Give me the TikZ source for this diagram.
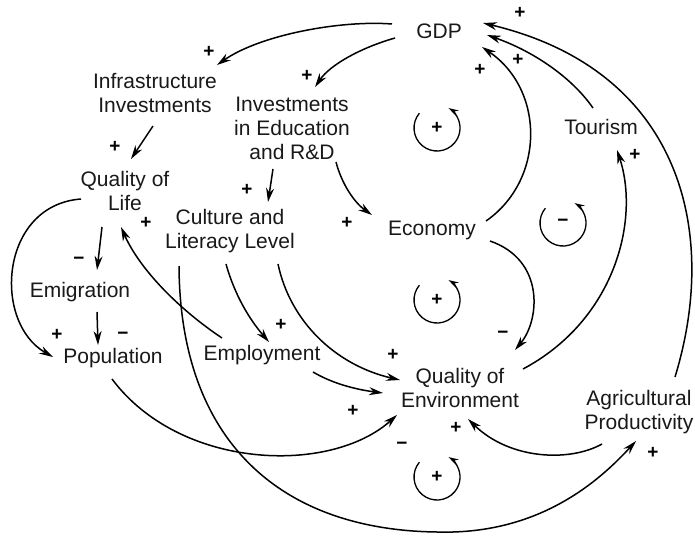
\documentclass[tikz,border=0pt]{standalone}
\usepackage{fontspec}
\setmainfont{Liberation Sans}
\usetikzlibrary{arrows.meta}
\begin{document}
\begin{tikzpicture}[x=1pt,y=-1pt,
  var/.style={align=center,font=\fontsize{21}{24}\selectfont,inner sep=0pt,text=black!90},
  pol/.style={font=\bfseries\fontsize{19}{19}\selectfont,inner sep=0pt},
  lnk/.style={line width=1.5pt,-{Stealth[length=14pt,width=8pt]}},
  cyc/.style={line width=1.3pt,-{Stealth[length=10pt,width=6pt]}}]
\fill[white] (0,0) rectangle (695,535);
\useasboundingbox (0,0) rectangle (695,535);

% variables
\node[var] (gdp)   at (439,31)  {GDP};
\node[var] (infra) at (155,93)  {Infrastructure\\Investments};
\node[var] (inved) at (292,128) {Investments\\in Education\\and R\&D};
\node[var] (tour)  at (601,127) {Tourism};
\node[var] (qol)   at (125,191) {Quality of\\Life};
\node[var] (cult)  at (230,231) {Culture and\\Literacy Level};
\node[var] (econ)  at (432,230) {Economy};
\node[var] (emig)  at (80,292)  {Emigration};
\node[var] (pop)   at (113,358) {Population};
\node[var] (empl)  at (262,355) {Employment};
\node[var] (qoe)   at (460,388) {Quality of\\Environment};
\node[var] (agri)  at (639,412) {Agricultural\\Productivity};

% links
\draw[lnk] ([shift={(-47,-7)}]gdp.center) .. controls +(-52,-4) and +(43,-30) .. ([shift={(62,-28)}]infra.center);
\draw[lnk] ([shift={(-44,7)}]gdp.center) .. controls +(-35,10) and +(15,-22) .. ([shift={(23,-41)}]inved.center);
\draw[lnk] ([shift={(-2,33)}]infra.center) -- ([shift={(6,-32)}]qol.center);
\draw[lnk] ([shift={(-19,41)}]inved.center) -- ([shift={(38,-29)}]cult.center);
\draw[lnk] ([shift={(44,34)}]inved.center) .. controls +(6,23) and +(-17,-12) .. ([shift={(-60,-15)}]econ.center);
\draw[lnk] ([shift={(54,-9)}]econ.center) .. controls +(59,-41) and +(63,43) .. ([shift={(43,16)}]gdp.center);
\draw[lnk] ([shift={(-8,-19)}]tour.center) .. controls +(-23,-33) and +(43,15) .. ([shift={(48,4)}]gdp.center);
\draw[lnk] ([shift={(36,-35)}]agri.center) .. controls +(45,-147) and +(197,47) .. ([shift={(44,-8)}]gdp.center);
\draw[lnk] ([shift={(63,-19)}]qoe.center) .. controls +(92,-49) and +(23,70) .. ([shift={(16,23)}]tour.center);
\draw[lnk] ([shift={(58,11)}]econ.center) .. controls +(55,19) and +(25,-30) .. ([shift={(55,-38)}]qoe.center);
\draw[lnk] ([shift={(-37,32)}]agri.center) .. controls +(-32,18) and +(42,41) .. ([shift={(8,31)}]qoe.center);
\draw[lnk] ([shift={(-51,35)}]cult.center) .. controls +(1,175) and +(-157,-2) .. (437,532)
           .. controls +(103,3) and +(-36,39) .. ([shift={(-3,29)}]agri.center);
\draw[lnk] ([shift={(-4,33)}]cult.center) .. controls +(9,32) and +(-19,-22) .. ([shift={(7,-13)}]empl.center);
\draw[lnk] ([shift={(48,33)}]cult.center) .. controls +(12,57) and +(-65,-15) .. ([shift={(-60,-8)}]qoe.center);
\draw[lnk] ([shift={(51,17)}]empl.center) .. controls +(22,13) and +(-23,-3) .. ([shift={(-77,5)}]qoe.center);
\draw[lnk] ([shift={(-40,-17)}]empl.center) .. controls +(-42,-28) and +(19,43) .. ([shift={(-4,36)}]qol.center);
\draw[lnk] ([shift={(-23,36)}]qol.center) -- ([shift={(17,-22)}]emig.center);
\draw[lnk] ([shift={(17,20)}]emig.center) -- ([shift={(-15,-13)}]pop.center);
\draw[lnk] ([shift={(-44,8)}]qol.center) .. controls +(-81,6) and +(-61,-35) .. ([shift={(-60,-1)}]pop.center);
\draw[lnk] ([shift={(-1,21)}]pop.center) .. controls +(68,91) and +(-67,60) .. ([shift={(-63,27)}]qoe.center);

% polarities
\node[pol] (p1)  at (209,52)  {+};
\node[pol] (p2)  at (307,76)  {+};
\node[pol] (p3)  at (115,147) {+};
\node[pol] (p4)  at (247,190) {+};
\node[pol] (p5)  at (347,223) {+};
\node[pol] (p6)  at (480,70)  {+};
\node[pol] (p7)  at (518,60)  {+};
\node[pol] (p8)  at (520,13)  {+};
\node[pol] (p9)  at (635,155) {+};
\node[pol] (p10) at (503,335) {−};
\node[pol] (p11) at (456,428) {+};
\node[pol] (p12) at (653,453) {+};
\node[pol] (p13) at (281,325) {+};
\node[pol] (p14) at (393,355) {+};
\node[pol] (p15) at (353,411) {+};
\node[pol] (p16) at (402,446) {−};
\node[pol] (p17) at (146,223) {+};
\node[pol] (p18) at (79,261)  {−};
\node[pol] (p19) at (57,335)  {+};
\node[pol] (p20) at (123,336) {−};

% loop markers
\begin{scope}[shift={(437,128)},y=1pt]
  \draw[cyc] (140:23) arc[start angle=140,end angle=420,radius=23];
  \node[pol] (r1) at (0,0) {+};
\end{scope}
\begin{scope}[shift={(563,223)},y=1pt]
  \draw[cyc] (140:23) arc[start angle=140,end angle=420,radius=23];
  \node[pol] (r2) at (0,0) {−};
\end{scope}
\begin{scope}[shift={(437,300)},y=1pt]
  \draw[cyc] (140:23) arc[start angle=140,end angle=420,radius=23];
  \node[pol] (r3) at (0,0) {+};
\end{scope}
\begin{scope}[shift={(437,477)},y=1pt]
  \draw[cyc] (140:23) arc[start angle=140,end angle=420,radius=23];
  \node[pol] (r4) at (0,0) {+};
\end{scope}
\end{tikzpicture}
\end{document}
